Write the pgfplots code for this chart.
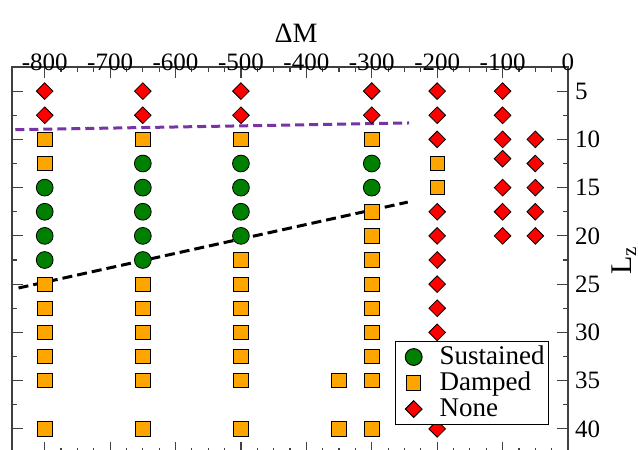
\documentclass[border=0pt]{standalone}
\usepackage{pgfplots}
\pgfplotsset{compat=1.18}
\usepackage{fontspec}
\setmainfont{Liberation Serif}

\definecolor{sustgreen}{RGB}{0,128,0}
\definecolor{damporange}{RGB}{255,165,0}
\definecolor{nonered}{RGB}{255,0,0}
\definecolor{fitpurple}{RGB}{118,52,165}

\begin{document}
\begin{tikzpicture}
\begin{axis}[
  at={(0,0)}, anchor=south west,
  scale only axis, width=278pt, height=193pt,
  xmin=-850, xmax=0, ymin=2.5, ymax=42.5,
  y dir=reverse,
  xtick={-800,-700,...,0}, minor x tick num=3,
  ytick={5,10,...,40}, minor y tick num=1,
  tick align=inside,
  major tick length=5.5pt, minor tick length=2.7pt,
  xticklabel pos=upper, yticklabel pos=upper,
  ticklabel style={font=\fontsize{12.5}{14}\selectfont},
  xticklabel style={yshift=-3pt, inner ysep=1pt},
  /pgf/number format/assume math mode=true,
  xlabel={ΔM},
  every axis x label/.style={at={(axis description cs:0.5,1)}, anchor=base,
    xshift=3pt, yshift=12.5pt, inner sep=0pt, font=\fontsize{14}{16}\selectfont},
  ylabel={L\textsubscript{z}},
  every axis y label/.style={at={(axis description cs:1,0.5)}, xshift=18.5pt,
    rotate=90, anchor=north, font=\fontsize{15}{17}\selectfont},
  axis line style={black!75, line width=0.75pt},
  every tick/.style={black!75, line width=0.6pt},
  legend style={at={(0.966,0.0725)}, anchor=south east, draw=black, line width=0.5pt,
    fill=white, font=\fontsize{13.5}{15}\selectfont, row sep=0pt,
    inner xsep=0pt, inner ysep=1.25pt,
    nodes={text height=9.5pt, text depth=2.5pt, inner ysep=0.5pt}},
  legend cell align=left,
  legend image code/.code={%
    \path (-8.7pt,0pt) (10.7pt,0pt);
    \draw[#1] plot coordinates {(0pt,0pt)};},
  mark options={solid, line width=0.5pt, draw=black!80},
]
\addplot[only marks, mark=*, mark size=4.2pt, mark options={fill=sustgreen}] coordinates {
  (-800,15) (-800,17.5) (-800,20) (-800,22.5)
  (-650,12.5) (-650,15) (-650,17.5) (-650,20) (-650,22.5)
  (-500,12.5) (-500,15) (-500,17.5) (-500,20)
  (-300,12.5) (-300,15)
};
\addlegendentry{Sustained}
\addplot[only marks, mark=square*, mark size=3.6pt, mark options={fill=damporange}] coordinates {
  (-800,10) (-800,12.5) (-800,25) (-800,27.5) (-800,30) (-800,32.5) (-800,35) (-800,40)
  (-650,10) (-650,25) (-650,27.5) (-650,30) (-650,32.5) (-650,35) (-650,40)
  (-500,10) (-500,22.5) (-500,25) (-500,27.5) (-500,30) (-500,32.5) (-500,35) (-500,40)
  (-350,35) (-350,40)
  (-300,10) (-300,17.5) (-300,20) (-300,22.5) (-300,25) (-300,27.5) (-300,30) (-300,32.5) (-300,35) (-300,40)
  (-200,12.5) (-200,15)
};
\addlegendentry{Damped}
\addplot[only marks, mark=square*, mark size=2.95pt, mark options={fill=nonered, rotate=45}] coordinates {
  (-800,5) (-800,7.5) (-650,5) (-650,7.5) (-500,5) (-500,7.5) (-300,5) (-300,7.5)
  (-200,5) (-200,7.5) (-200,10) (-200,17.5) (-200,20) (-200,22.5) (-200,25) (-200,27.5)
  (-200,30) (-200,32.5) (-200,35) (-200,40)
  (-100,5) (-100,7.5) (-100,10) (-100,12) (-100,15) (-100,17.5) (-100,20)
  (-50,10) (-50,12.5) (-50,15) (-50,17.5) (-50,20)
};
\addlegendentry{None}
% boundary fits
\addplot[forget plot, fitpurple, line width=1.5pt, dash pattern=on 4.5pt off 2.5pt] coordinates {(-845,9.0) (-243,8.3)};
\addplot[forget plot, black, line width=1.5pt, dash pattern=on 5pt off 2.5pt] coordinates {(-840,25.4) (-245,16.5)};
\end{axis}
\pgfresetboundingbox
\useasboundingbox (-6pt,1.5pt) rectangle (313pt,226.5pt);
\end{tikzpicture}
\end{document}
